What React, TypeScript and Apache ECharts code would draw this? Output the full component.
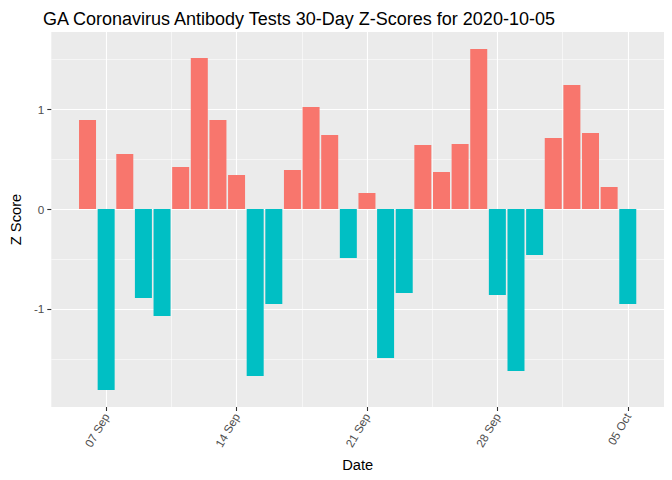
import React, { useEffect, useRef } from "react";
import * as echarts from "echarts";

const dates = [
  "2020-09-06", "2020-09-07", "2020-09-08", "2020-09-09", "2020-09-10",
  "2020-09-11", "2020-09-12", "2020-09-13", "2020-09-14", "2020-09-15",
  "2020-09-16", "2020-09-17", "2020-09-18", "2020-09-19", "2020-09-20",
  "2020-09-21", "2020-09-22", "2020-09-23", "2020-09-24", "2020-09-25",
  "2020-09-26", "2020-09-27", "2020-09-28", "2020-09-29", "2020-09-30",
  "2020-10-01", "2020-10-02", "2020-10-03", "2020-10-04", "2020-10-05",
];
const zScores = [
  0.89, -1.81, 0.55, -0.89, -1.07,
  0.42, 1.51, 0.89, 0.34, -1.67,
  -0.95, 0.39, 1.02, 0.74, -0.49,
  0.16, -1.49, -0.84, 0.64, 0.37,
  0.65, 1.6, -0.86, -1.62, -0.46,
  0.71, 1.24, 0.76, 0.22, -0.95,
];
const xTickDates = ["2020-09-07", "2020-09-14", "2020-09-21", "2020-09-28", "2020-10-05"];
const xTickLabels = ["07 Sep", "14 Sep", "21 Sep", "28 Sep", "05 Oct"];
const yTicks = [-1, 0, 1];
const yMinorTicks = [-1.5, -0.5, 0.5, 1.5];

const POS = "#F8766D";
const NEG = "#00BFC4";
const FONT = "Liberation Sans, Arial, sans-serif";

export default function App() {
  const ref = useRef<HTMLDivElement>(null);
  useEffect(() => {
    if (!ref.current) return;
    const chart = echarts.init(ref.current, null, { renderer: "svg" });

    const xTickIdx = xTickDates.map((d) => dates.indexOf(d));
    const xMinorIdx = xTickIdx.slice(0, -1).map((v, i) => (v + xTickIdx[i + 1]) / 2);
    const half = 0.45;
    const xLo = -half, xHi = dates.length - 1 + half;
    const xPad = (xHi - xLo) * 0.05;
    const yLo = Math.min(...zScores), yHi = Math.max(...zScores);
    const yPad = (yHi - yLo) * 0.05;
    const xMin = xLo - xPad, xMax = xHi + xPad;
    const yMin = yLo - yPad, yMax = yHi + yPad;

    chart.setOption({
      animation: false,
      backgroundColor: "#ffffff",
      title: {
        text: "GA Coronavirus Antibody Tests 30-Day Z-Scores for 2020-10-05",
        left: 38,
        top: 5,
        textStyle: { fontFamily: FONT, fontSize: 18, fontWeight: "normal", color: "#000000" },
      },
      grid: {
        left: 43, right: 8, top: 32, bottom: 73,
        show: true, backgroundColor: "#EBEBEB", borderWidth: 0,
      },
      xAxis: [
        {
          type: "value",
          min: xMin, max: xMax,
          name: "Date",
          nameLocation: "middle",
          nameGap: 50,
          nameTextStyle: { fontFamily: FONT, fontSize: 14.7, color: "#000000" },
          axisLine: { show: false, onZero: false },
          axisTick: { show: true, length: 4, customValues: xTickIdx, lineStyle: { color: "#333333", width: 1.1 } },
          axisLabel: {
            customValues: xTickIdx,
            formatter: (v: number) => xTickLabels[xTickIdx.indexOf(Math.round(v))] ?? "",
            rotate: 60, margin: 7,
            fontFamily: FONT, fontSize: 11.7, color: "#4D4D4D",
          },
          splitLine: { show: true, lineStyle: { color: "#ffffff", width: 1.1 } },
        },
        {
          type: "value",
          min: xMin, max: xMax,
          gridIndex: 0,
          position: "bottom",
          axisLine: { show: false, onZero: false },
          axisTick: { show: false, customValues: xMinorIdx },
          axisLabel: { show: false, customValues: xMinorIdx },
          splitLine: { show: true, lineStyle: { color: "#ffffff", width: 0.55 } },
        },
      ],
      yAxis: [
        {
          type: "value",
          min: yMin, max: yMax,
          name: "Z Score",
          nameLocation: "middle",
          nameGap: 24,
          nameTextStyle: { fontFamily: FONT, fontSize: 14.7, color: "#000000" },
          axisLine: { show: false, onZero: false },
          axisTick: { show: true, length: 4, customValues: yTicks, lineStyle: { color: "#333333", width: 1.1 } },
          axisLabel: {
            customValues: yTicks,
            margin: 7,
            fontFamily: FONT, fontSize: 11.7, color: "#4D4D4D",
          },
          splitLine: { show: true, lineStyle: { color: "#ffffff", width: 1.1 } },
        },
        {
          type: "value",
          min: yMin, max: yMax,
          gridIndex: 0,
          position: "left",
          axisLine: { show: false, onZero: false },
          axisTick: { show: false, customValues: yMinorTicks },
          axisLabel: { show: false, customValues: yMinorTicks },
          splitLine: { show: true, lineStyle: { color: "#ffffff", width: 0.55 } },
        },
      ],
      series: [
        {
          type: "bar",
          xAxisIndex: 0,
          yAxisIndex: 0,
          barWidth: 17,
          data: zScores.map((v, i) => ({
            value: [i, v],
            itemStyle: { color: v >= 0 ? POS : NEG },
          })),
        },
      ],
    });
    return () => chart.dispose();
  }, []);
  return <div ref={ref} style={{ width: 672, height: 480, margin: -8 }} />;
}
